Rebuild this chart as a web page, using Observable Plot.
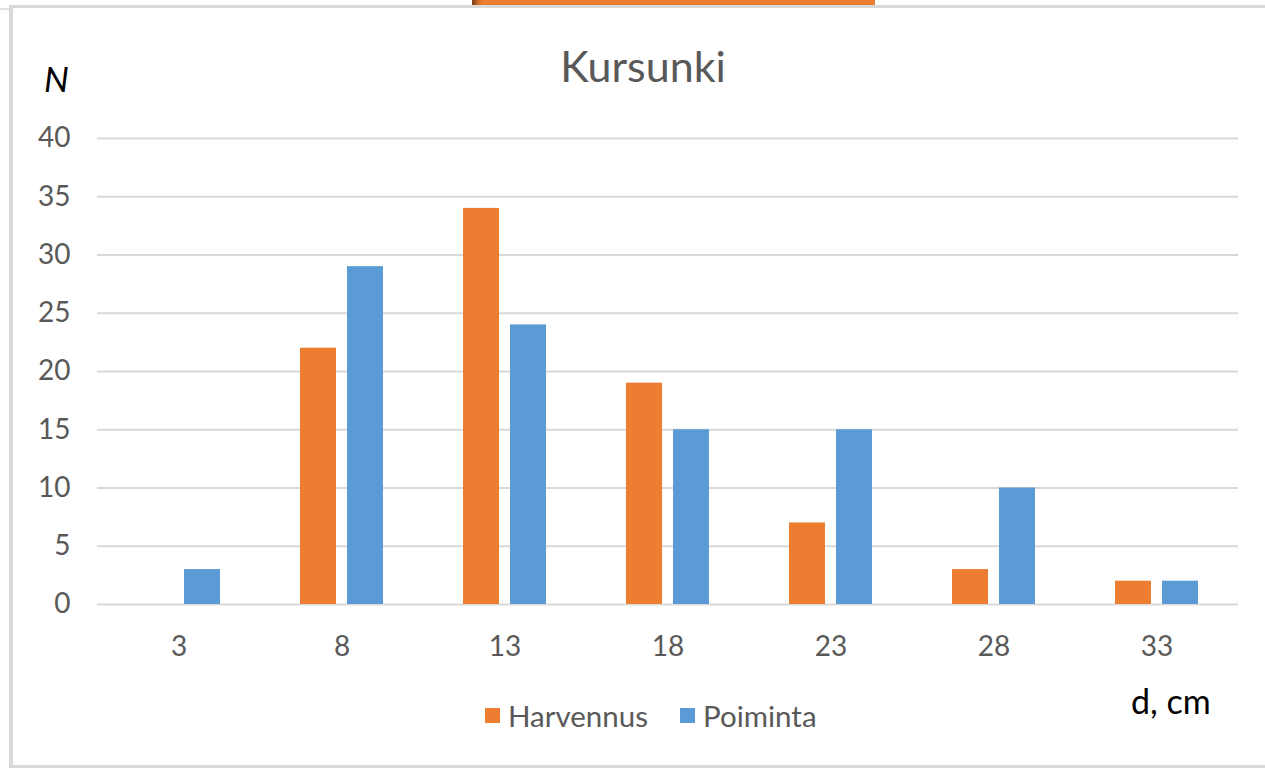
<!DOCTYPE html>
<html>
<head>
<meta charset="utf-8">
<script src="https://cdn.jsdelivr.net/npm/d3@7"></script>
<script src="https://cdn.jsdelivr.net/npm/@observablehq/plot@0.6"></script>
<style>
  html, body { margin: 0; padding: 0; background: #fff; }
  #page { position: relative; width: 1265px; height: 768px; overflow: hidden; background: #fff; font-family: Lato, "Open Sans", sans-serif; }
  .abs { position: absolute; line-height: 1.2; }
  #topline { left: 12px; top: 5px; width: 1253px; height: 3px; background: #d9d9d9; }
  #leftline { left: 9px; top: 5px; width: 4px; height: 763px; background: #d9d9d9; }
  #stub { left: 0; top: 8px; width: 9px; height: 2px; background: #e3e3e3; }
  #bottomline { left: 9px; top: 765px; width: 1256px; height: 3px; background: #d9d9d9; }
  #tab { left: 472px; top: 0; width: 403px; height: 5px; background: linear-gradient(to right, #7a3e12 0px, #c8682a 6px, #ED7D31 10px, #ED7D31 100%); }
  #title { left: 0; width: 1286px; top: 40px; text-align: center; font-size: 43px; color: #595959; }
  #ylab { left: 44px; top: 57px; font-size: 35px; font-style: italic; color: #000; }
  #xlab { left: 1131px; top: 681px; font-size: 34px; color: #000; }
  #legend { left: 485px; top: 698px; display: flex; align-items: center; font-size: 29.5px; color: #595959; }
  .item { display: flex; align-items: center; margin-right: 32px; }
  .sw { width: 15px; height: 15px; margin-right: 8px; }
  #chart { left: 0; top: 100px; }
</style>
</head>
<body>
<div id="page">
  <div id="tab" class="abs"></div>
  <div id="stub" class="abs"></div>
  <div id="topline" class="abs"></div>
  <div id="leftline" class="abs"></div>
  <div id="bottomline" class="abs"></div>
  <div id="title" class="abs">Kursunki</div>
  <div id="ylab" class="abs">N</div>
  <div id="xlab" class="abs">d, cm</div>
  <div id="chart" class="abs"></div>
  <div id="legend" class="abs"></div>
</div>
<script>
const categories = ["3", "8", "13", "18", "23", "28", "33"];
const series = ["Harvennus", "Poiminta"];
const harvennus = [0, 22, 34, 19, 7, 3, 2];
const poiminta = [3, 29, 24, 15, 15, 10, 2];
const yTicks = [0, 5, 10, 15, 20, 25, 30, 35, 40];
const colors = ["#ED7D31", "#5B9BD5"];

const rows = [];
categories.forEach((c, i) => {
  rows.push({d: c, series: series[0], n: harvennus[i]});
  rows.push({d: c, series: series[1], n: poiminta[i]});
});

const chart = Plot.plot({
  width: 1265,
  height: 580,
  marginLeft: 97,
  marginRight: 27,
  marginTop: 38,
  marginBottom: 76,
  style: {fontFamily: "Lato, 'Open Sans', sans-serif", fontSize: "28px", color: "#595959", background: "transparent", overflow: "visible"},
  x: {domain: categories, padding: 0, label: null, tickSize: 0, tickPadding: 32},
  y: {domain: [0, 40], ticks: yTicks, label: null, tickSize: 0, tickPadding: 27},
  color: {domain: series, range: colors},
  marks: [
    Plot.ruleY(yTicks, {stroke: "#d9d9d9", strokeWidth: 2}),
    Plot.barY(rows.filter(r => r.series === series[0] && r.n > 0), {x: "d", y: "n", fill: "series", insetLeft: 40, insetRight: 87}),
    Plot.barY(rows.filter(r => r.series === series[1] && r.n > 0), {x: "d", y: "n", fill: "series", insetLeft: 87, insetRight: 40})
  ]
});
document.getElementById("chart").appendChild(chart);

const legend = document.getElementById("legend");
series.forEach((s, i) => {
  const item = document.createElement("div");
  item.className = "item";
  const sw = document.createElement("div");
  sw.className = "sw";
  sw.style.background = colors[i];
  const t = document.createElement("span");
  t.textContent = s;
  item.appendChild(sw);
  item.appendChild(t);
  legend.appendChild(item);
});
</script>
</body>
</html>
